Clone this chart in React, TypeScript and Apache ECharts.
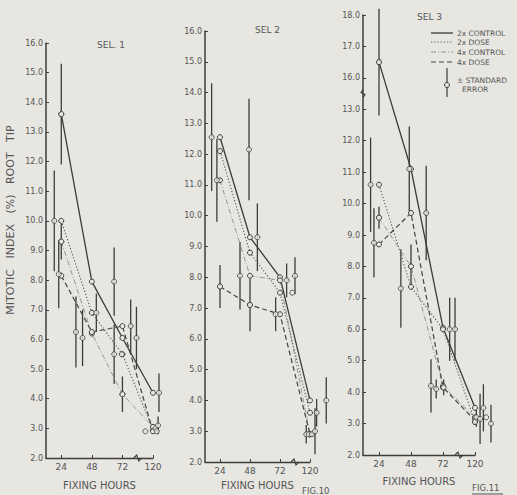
import React, { useEffect, useRef } from "react";
import * as echarts from "echarts";

// ---------- data ----------
const hourLabels = ["24", "48", "72", "120"];
const hourPos = [24, 48, 72, 96]; // axis position (break between 72 and 120)
const seriesNames = ["2x CONTROL", "2x DOSE", "4x CONTROL", "4x DOSE"];

// SEL. 1 — means at 24, 48, 72, 120 h
const sel1Control2 = [13.6, 7.95, 6.05, 4.2];
const sel1Dose2 = [10.0, 6.9, 5.5, 2.95];
const sel1Control4 = [9.3, 6.2, 4.15, 3.05];
const sel1Dose4 = [8.15, 6.25, 6.45, 2.9];
// replicate points: [axis hour, value, standard error]
const sel1Points = [
  [18.5, 10.0, 1.7], [22, 8.2, 1.15], [24, 13.6, 1.7], [24, 9.3, 0.6],
  [35.5, 6.25, 1.2], [40.7, 6.05, 0.95], [51.5, 6.9, 0.65], [65.5, 7.95, 1.15],
  [65.5, 5.5, 1.0], [71.5, 5.5, 0], [72, 4.15, 0.6], [78.5, 6.45, 0.9], [83, 6.05, 1.05],
  [90, 2.9, 0], [98, 3.0, 0], [99, 2.9, 0], [100, 3.1, 0.3], [100.7, 4.2, 0.65],
];

// SEL 2
const sel2Control2 = [12.55, 9.3, 8.0, 4.0];
const sel2Dose2 = [12.1, 8.8, 7.5, 3.6];
const sel2Control4 = [11.15, 8.05, 7.9, 2.9];
const sel2Dose4 = [7.7, 7.1, 6.8, 2.9];
const sel2Points = [
  [17.3, 12.55, 1.75], [21.5, 11.15, 1.35], [24, 7.7, 0.7], [40, 8.05, 1.1],
  [47.2, 12.15, 1.65], [48, 7.1, 0.85], [53.9, 9.3, 1.1], [68.5, 6.8, 0.55],
  [77.3, 7.9, 0.55], [81.8, 7.5, 0], [84, 8.05, 0.6], [93, 2.9, 0.3], [95, 2.9, 0],
  [97.5, 2.9, 0], [100, 3.0, 0.75], [101.3, 3.6, 0.45], [109, 4.0, 0.75],
];

// SEL 3 (values above 13 are read on the broken part of the axis)
const sel3Control2 = [16.5, 11.1, 6.05, 3.5];
const sel3Dose2 = [10.6, 7.35, 6.0, 3.05];
const sel3Control4 = [9.55, 8.0, 4.2, 3.2];
const sel3Dose4 = [8.7, 9.7, 4.15, 3.1];
const sel3Points = [
  [17.7, 10.6, 1.5], [20.2, 8.75, 1.1], [24, 16.5, 1.7], [24, 9.55, 0.35],
  [40.4, 7.3, 1.25], [46.7, 11.1, 1.35], [48, 8.0, 0.7], [59.4, 9.7, 1.5],
  [63, 4.2, 0.85], [66.9, 4.1, 0.3], [72.5, 4.15, 0.25], [77, 6.0, 1.0], [81, 6.0, 1.0],
  [96, 3.05, 0], [97, 3.2, 0.3], [99.8, 3.15, 0.8], [102.3, 3.5, 0.75], [104.4, 3.2, 0],
  [108, 3.0, 0.6],
];

// ---------- styling ----------
const BG = "#e7e6e1";
const INK = "#3c3c3c";
const TXT = "#555555";
const FONT = "DejaVu Sans";

const lineStyles = [
  { type: "solid", width: 1.3, color: INK },
  { type: [1.2, 2], width: 1.1, color: "#555" },
  { type: [5, 2, 1, 2], width: 0.9, color: "#8a8a8a" },
  { type: [5, 3], width: 1.2, color: "#444" },
];

const grids = [
  { left: 46, top: 43, width: 107, height: 420 },
  { left: 205, top: 31, width: 105, height: 431 },
  { left: 363, top: 15, width: 112, height: 440 },
];

const panels = [
  { lines: [sel1Control2, sel1Dose2, sel1Control4, sel1Dose4], points: sel1Points, broken: false, nameGap: 22 },
  { lines: [sel2Control2, sel2Dose2, sel2Control4, sel2Dose4], points: sel2Points, broken: false, nameGap: 18 },
  { lines: [sel3Control2, sel3Dose2, sel3Control4, sel3Dose4], points: sel3Points, broken: true, nameGap: 21 },
];

const toAxis = (v: number, broken: boolean) => (broken && v > 13.5 ? v - 2 : v);

export default function App() {
  const ref = useRef<HTMLDivElement>(null);
  useEffect(() => {
    if (!ref.current) return;
    const chart = echarts.init(ref.current, null, { renderer: "svg" });

    const xAxis: any[] = [];
    const yAxis: any[] = [];
    const series: any[] = [];

    panels.forEach((p, i) => {
      xAxis.push({
        type: "value",
        gridIndex: i,
        min: 12,
        max: 96,
        name: "FIXING HOURS",
        nameLocation: "middle",
        nameGap: p.nameGap,
        nameTextStyle: { color: TXT, fontFamily: FONT, fontSize: 10 },
        axisLine: { lineStyle: { color: INK, width: 1.4 } },
        axisTick: { inside: true, length: 3, customValues: hourPos, lineStyle: { color: INK } },
        axisLabel: {
          customValues: hourPos,
          formatter: (v: number) => hourLabels[hourPos.indexOf(v)] ?? "",
          color: TXT,
          fontFamily: FONT,
          fontSize: 9,
          margin: 4,
        },
        splitLine: { show: false },
      });
      yAxis.push({
        type: "value",
        gridIndex: i,
        min: 2,
        max: 16,
        interval: 1,
        axisLine: { show: true, lineStyle: { color: INK, width: 1.5 } },
        axisTick: { inside: true, length: 3, lineStyle: { color: INK } },
        axisLabel: {
          formatter: (v: number) => (p.broken && v > 13 ? v + 2 : v).toFixed(1),
          color: TXT,
          fontFamily: FONT,
          fontSize: 8,
          margin: 3,
        },
        splitLine: { show: false },
      });

      // error bars
      series.push({
        type: "custom",
        xAxisIndex: i,
        yAxisIndex: i,
        clip: false,
        silent: true,
        z: 2,
        data: p.points.filter((q) => q[2] > 0).map((q) => [q[0], toAxis(q[1], p.broken), q[2]]),
        renderItem: (_params: any, api: any) => {
          const x = api.value(0);
          const y = api.value(1);
          const e = api.value(2);
          const a = api.coord([x, y + e]);
          const b = api.coord([x, y - e]);
          return {
            type: "line",
            shape: { x1: a[0], y1: a[1], x2: b[0], y2: b[1] },
            style: { stroke: INK, lineWidth: 1.3 },
          };
        },
      });

      // mean lines
      p.lines.forEach((vals, k) => {
        series.push({
          type: "line",
          name: seriesNames[k],
          xAxisIndex: i,
          yAxisIndex: i,
          clip: false,
          z: 3,
          symbol: "circle",
          symbolSize: 5,
          itemStyle: { color: BG, borderColor: INK, borderWidth: 1 },
          lineStyle: lineStyles[k],
          data: vals.map((v, j) => [hourPos[j], toAxis(v, p.broken)]),
        });
      });

      // replicate points
      series.push({
        type: "scatter",
        xAxisIndex: i,
        yAxisIndex: i,
        clip: false,
        z: 4,
        symbol: "circle",
        symbolSize: 5,
        itemStyle: { color: BG, borderColor: INK, borderWidth: 1 },
        data: p.points.map((q) => [q[0], toAxis(q[1], p.broken)]),
      });
    });

    chart.setOption({
      animation: false,
      backgroundColor: BG,
      grid: grids.map((g) => ({ ...g, containLabel: false })),
      xAxis,
      yAxis,
      series,
    });

    // decorations: axis breaks, titles, legend
    const g: any[] = [];
    const txt = (text: string, x: number, y: number, size: number, extra: any = {}) => ({
      type: "text",
      x,
      y,
      style: { text, fill: TXT, fontFamily: FONT, fontSize: size, ...extra },
      silent: true,
    });
    panels.forEach((p, i) => {
      const b = chart.convertToPixel({ gridIndex: i } as any, [84, 2]) as number[];
      g.push({
        type: "polyline",
        shape: { points: [[b[0] - 4, b[1]], [b[0] - 1, b[1] - 3], [b[0] + 1, b[1] + 3], [b[0] + 4, b[1]]] },
        style: { stroke: INK, lineWidth: 1.1, fill: "none" },
        silent: true,
      });
      if (p.broken) {
        const c = chart.convertToPixel({ gridIndex: i } as any, [12, 13.5]) as number[];
        g.push({
          type: "polyline",
          shape: { points: [[c[0], c[1] - 4], [c[0] - 2, c[1] - 1], [c[0] + 2, c[1] + 1], [c[0], c[1] + 4]] },
          style: { stroke: INK, lineWidth: 1.1, fill: "none" },
          silent: true,
        });
      }
    });
    g.push(txt("SEL. 1", 97, 40, 9));
    g.push(txt("SEL 2", 255, 25, 9));
    g.push(txt("SEL 3", 417, 12, 9));
    g.push({
      type: "text",
      x: 10,
      y: 220,
      rotation: Math.PI / 2,
      style: {
        text: "MITOTIC   INDEX   (%)   ROOT   TIP",
        fill: TXT,
        fontFamily: FONT,
        fontSize: 11,
        align: "center",
        verticalAlign: "middle",
      },
      silent: true,
    });
    g.push(txt("FIG.10", 302, 486, 8.5));
    g.push(txt("FIG.11", 472, 483, 8.5));
    g.push({ type: "line", shape: { x1: 472, y1: 494, x2: 503, y2: 494 }, style: { stroke: TXT, lineWidth: 1 }, silent: true });

    // legend
    const legY = [33, 42, 52, 62];
    legY.forEach((y, k) => {
      g.push({
        type: "line",
        shape: { x1: 431, y1: y, x2: 453, y2: y },
        style: { stroke: lineStyles[k].color, lineWidth: lineStyles[k].width, lineDash: k === 0 ? null : lineStyles[k].type },
        silent: true,
      });
      g.push(txt(seriesNames[k], 457, y - 4, 7.5));
    });
    g.push({ type: "line", shape: { x1: 447, y1: 68, x2: 447, y2: 97 }, style: { stroke: INK, lineWidth: 1.2 }, silent: true });
    g.push({ type: "circle", shape: { cx: 447, cy: 85, r: 2.5 }, style: { fill: BG, stroke: INK, lineWidth: 1 }, silent: true });
    g.push(txt("\u00b1 STANDARD", 457, 76, 7.5));
    g.push(txt("ERROR", 462, 85, 7.5));

    chart.setOption({ graphic: g });

    return () => chart.dispose();
  }, []);

  return (
    <div
      ref={ref}
      style={{ position: "fixed", left: 0, top: 0, width: 517, height: 495 }}
    />
  );
}
